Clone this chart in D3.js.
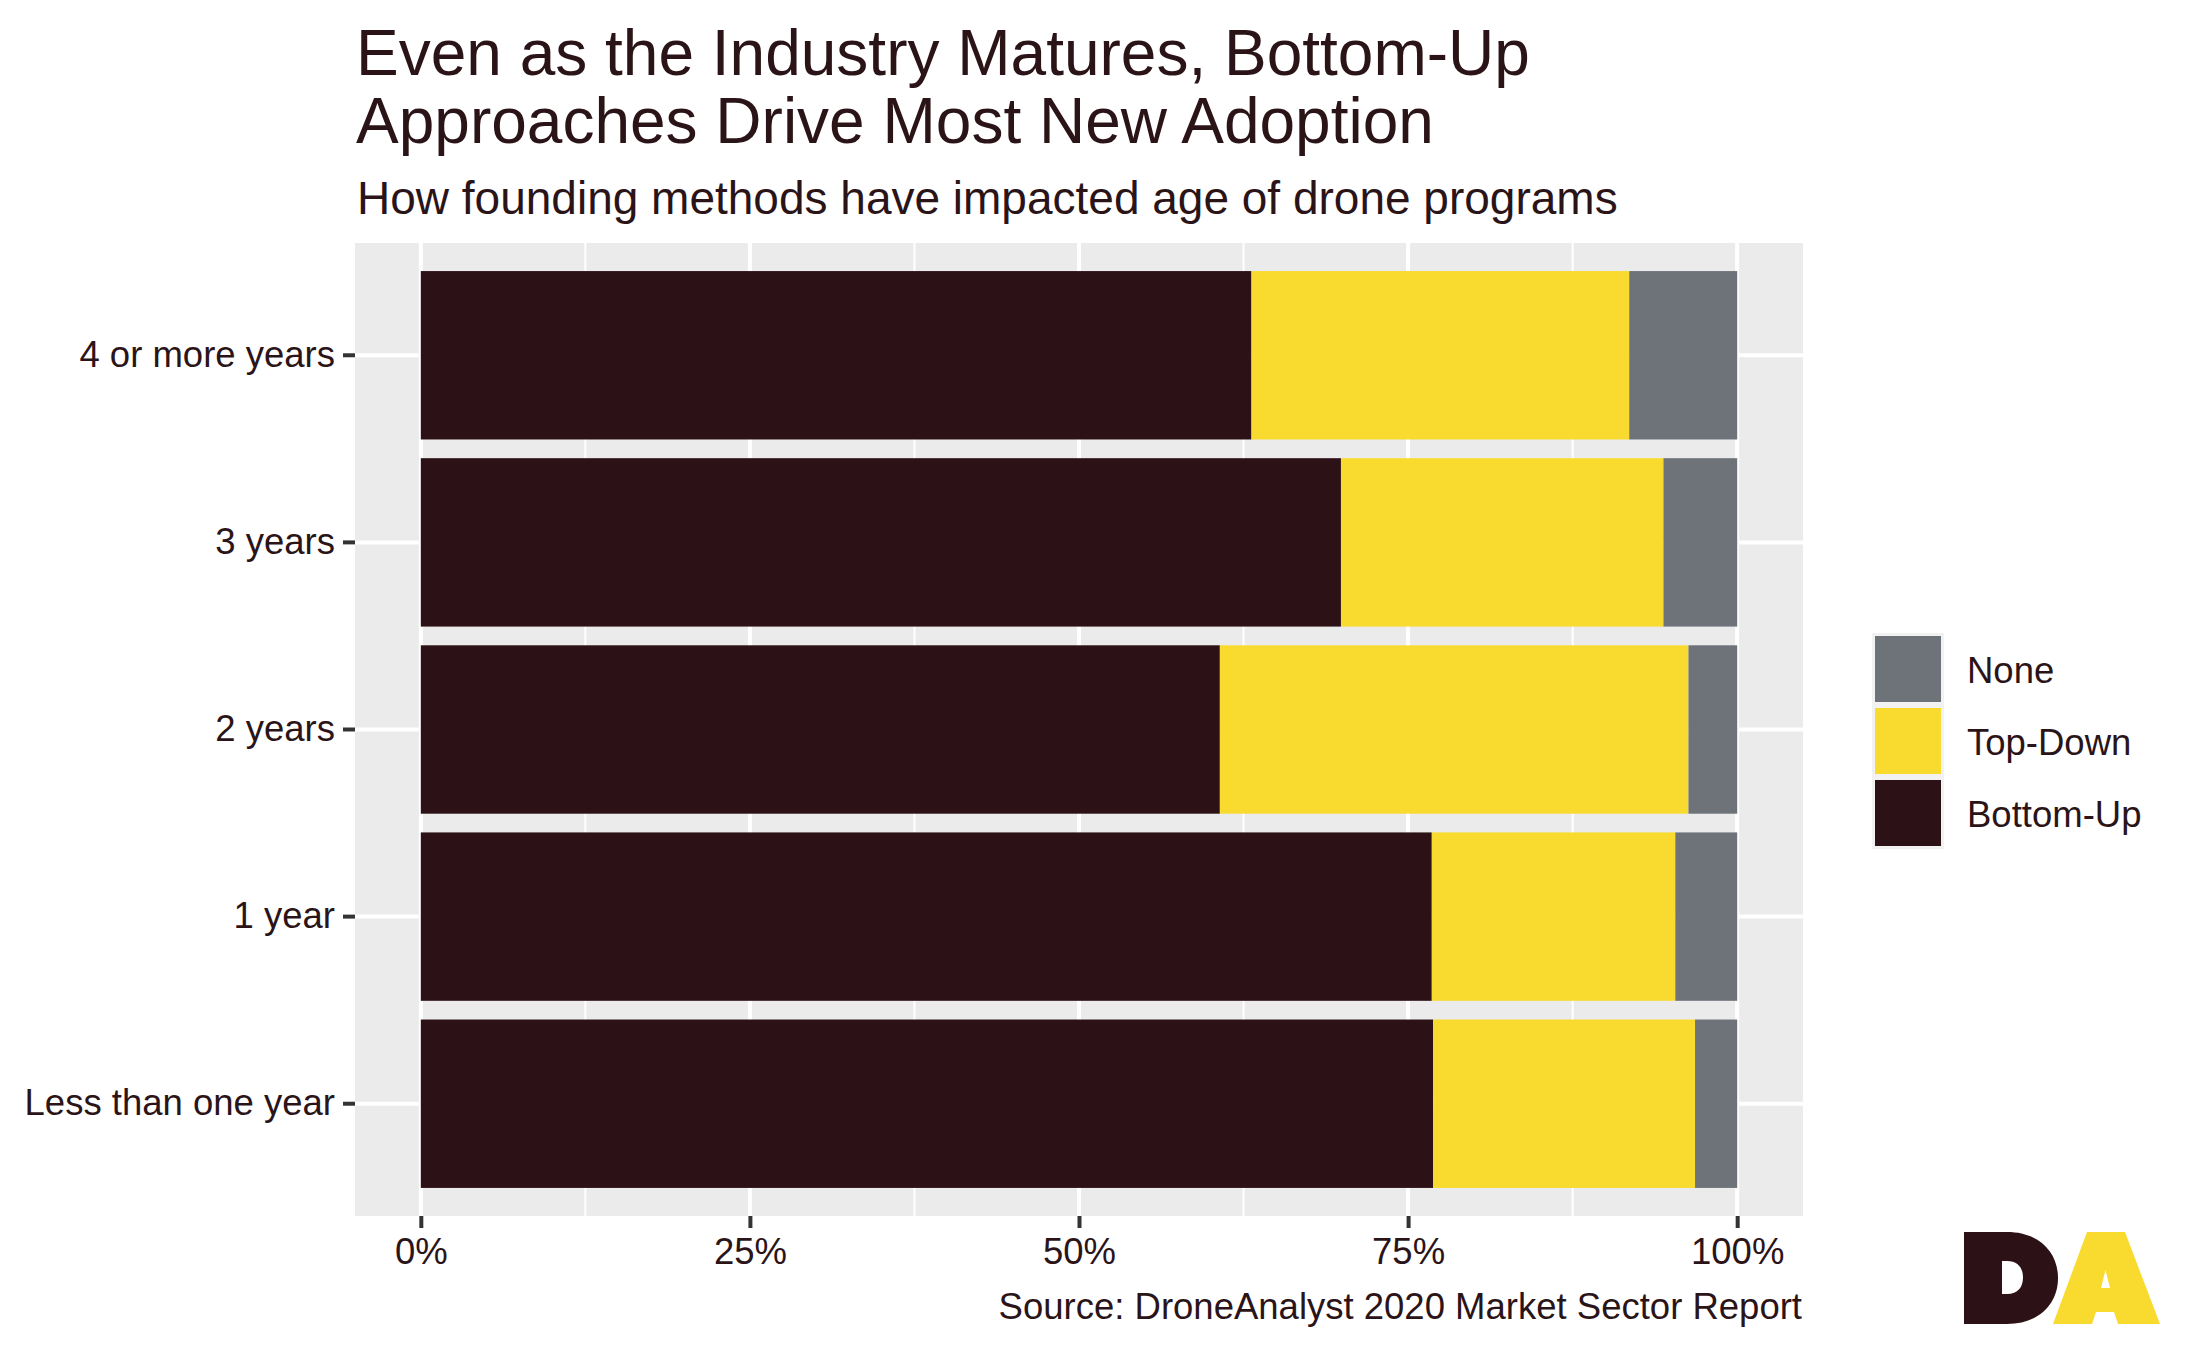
<!DOCTYPE html>
<html>
<head>
<meta charset="utf-8">
<script src="https://cdn.jsdelivr.net/npm/d3@7"></script>
<style>
  body { margin: 0; background: #fff; }
  text { font-family: "Liberation Sans", Arial, sans-serif; fill: #2b1417; }
</style>
</head>
<body>
<div id="chart"></div>
<script>
// data (percent of programs)
var ages = ["4 or more years", "3 years", "2 years", "1 year", "Less than one year"];
var methods = ["Bottom-Up", "Top-Down", "None"];
var bottomUp = [63.1, 69.9, 60.7, 76.8, 76.9];
var topDown = [28.7, 24.5, 35.6, 18.5, 19.9];
var none = [8.2, 5.6, 3.7, 4.7, 3.2];
var xTicks = [0, 25, 50, 75, 100];
var xMinor = [12.5, 37.5, 62.5, 87.5];
var legendOrder = ["None", "Top-Down", "Bottom-Up"];

var colors = { "Bottom-Up": "#2c1216", "Top-Down": "#f9da2f", "None": "#6e737a" };

var width = 2187, height = 1351;
var panel = { left: 355, right: 1803, top: 243, bottom: 1216 };

var svg = d3.select("#chart").append("svg")
    .attr("width", width)
    .attr("height", height);

// title + subtitle
svg.append("text").attr("x", 356).attr("y", 75)
    .style("font-size", "64px").text("Even as the Industry Matures, Bottom-Up");
svg.append("text").attr("x", 356).attr("y", 143)
    .style("font-size", "64px").text("Approaches Drive Most New Adoption");
svg.append("text").attr("x", 357).attr("y", 214)
    .style("font-size", "46px").text("How founding methods have impacted age of drone programs");

// scales
var pad = (panel.right - panel.left) * 0.05 / 1.1;
var x = d3.scaleLinear().domain([0, 100]).range([panel.left + pad, panel.right - pad]);
var y = d3.scaleBand().domain(ages).range([panel.top, panel.bottom])
    .paddingInner(0.1).paddingOuter(0.15);

// panel background
svg.append("rect")
    .attr("x", panel.left).attr("y", panel.top)
    .attr("width", panel.right - panel.left).attr("height", panel.bottom - panel.top)
    .attr("fill", "#ebebeb");

var grid = svg.append("g");
grid.selectAll(".minor").data(xMinor).enter().append("line")
    .attr("x1", d => x(d)).attr("x2", d => x(d))
    .attr("y1", panel.top).attr("y2", panel.bottom)
    .attr("stroke", "#fff").attr("stroke-width", 2);
grid.selectAll(".major").data(xTicks).enter().append("line")
    .attr("x1", d => x(d)).attr("x2", d => x(d))
    .attr("y1", panel.top).attr("y2", panel.bottom)
    .attr("stroke", "#fff").attr("stroke-width", 4);
grid.selectAll(".hmajor").data(ages).enter().append("line")
    .attr("x1", panel.left).attr("x2", panel.right)
    .attr("y1", d => y(d) + y.bandwidth() / 2).attr("y2", d => y(d) + y.bandwidth() / 2)
    .attr("stroke", "#fff").attr("stroke-width", 4);

// stacked bars
var rows = ages.map(function (a, i) {
    return { age: a, "Bottom-Up": bottomUp[i], "Top-Down": topDown[i], "None": none[i] };
});
var stack = d3.stack().keys(methods)(rows);

svg.append("g").selectAll("g")
    .data(stack)
    .enter().append("g")
    .attr("fill", d => colors[d.key])
    .selectAll("rect")
    .data(d => d)
    .enter().append("rect")
    .attr("x", d => x(d[0]))
    .attr("width", d => x(d[1]) - x(d[0]))
    .attr("y", d => y(d.data.age))
    .attr("height", y.bandwidth());

// axes
var xAxis = svg.append("g")
    .attr("transform", "translate(0," + panel.bottom + ")")
    .call(d3.axisBottom(x).tickValues(xTicks).tickSize(12).tickPadding(10)
        .tickFormat(d => d + "%"));
var yAxis = svg.append("g")
    .attr("transform", "translate(" + panel.left + ",0)")
    .call(d3.axisLeft(y).tickSize(12).tickPadding(8));

[xAxis, yAxis].forEach(function (ax) {
    ax.select(".domain").remove();
    ax.selectAll(".tick line").attr("stroke", "#333").attr("stroke-width", 4);
    ax.selectAll(".tick text").style("font-size", "36.5px").attr("fill", "#2b1417");
});
xAxis.selectAll(".tick text").attr("dy", "0.71em");

// legend
var legend = svg.append("g").attr("transform", "translate(1872,633)");
var item = legend.selectAll("g").data(legendOrder).enter().append("g")
    .attr("transform", (d, i) => "translate(0," + i * 72 + ")");
item.append("rect").attr("width", 72).attr("height", 72).attr("fill", "#f2f2f2");
item.append("rect").attr("x", 3).attr("y", 3).attr("width", 66).attr("height", 66)
    .attr("fill", d => colors[d]);
item.append("text").attr("x", 95).attr("y", 37).attr("dy", "0.35em")
    .style("font-size", "36.5px").text(d => d);

// caption
svg.append("text").attr("x", 1802).attr("y", 1319).attr("text-anchor", "end")
    .style("font-size", "36.5px").text("Source: DroneAnalyst 2020 Market Sector Report");

// DA logo
var logo = svg.append("g");
logo.append("path")
    .attr("fill-rule", "evenodd")
    .attr("fill", colors["Bottom-Up"])
    .attr("d", "M1964,1232 L2007,1232 C2039,1232 2058,1252 2058,1278 C2058,1304 2039,1324 2007,1324 L1964,1324 Z " +
        "M2002,1261 L2007,1261 C2018,1261 2023,1268 2023,1277.5 C2023,1287 2018,1294 2007,1294 L2002,1294 Z");
logo.append("path")
    .attr("fill-rule", "evenodd")
    .attr("fill", "#f9da2f")
    .attr("stroke", "#fff").attr("stroke-width", 2)
    .style("paint-order", "stroke")
    .attr("d", "M2053,1324 L2087,1232 L2125,1232 L2160,1324 L2118,1324 L2114,1312 L2096,1312 L2092,1324 Z " +
        "M2101,1288 L2105.5,1270 L2110,1288 Z");
</script>
</body>
</html>
